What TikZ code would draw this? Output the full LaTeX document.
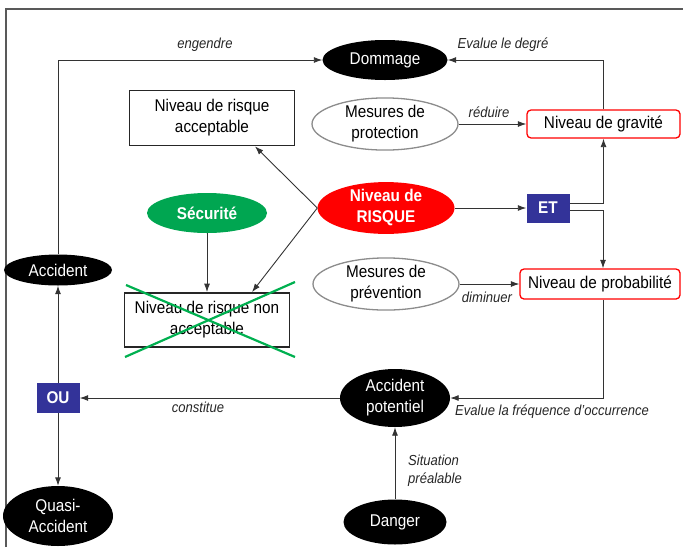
\documentclass[tikz,border=0pt]{standalone}
\usepackage{fontspec}
\setmainfont{Liberation Sans}[FakeStretch=0.9]
\usetikzlibrary{shapes.geometric,arrows.meta,calc}
\definecolor{myred}{RGB}{255,0,0}
\definecolor{myblue}{RGB}{51,51,153}
\definecolor{mygreen}{RGB}{0,176,80}
\definecolor{secgreen}{RGB}{0,166,81}
\definecolor{linegray}{RGB}{51,51,51}
\tikzset{
 nodefont/.style={font=\fontsize{17}{21}\selectfont},
 blackell/.style={ellipse, fill=black, text=white, inner sep=0pt, nodefont, align=center},
 grayell/.style={ellipse, draw=gray!90, line width=1.3pt, fill=white, inner sep=0pt, nodefont, align=center},
 redrect/.style={rectangle, rounded corners=4pt, draw=myred, line width=1.3pt, fill=white, nodefont, inner sep=0pt},
 blackrect/.style={rectangle, draw=black!85, line width=1.8pt, fill=white, nodefont, align=center, inner sep=0pt},
 bluebox/.style={rectangle, fill=myblue, text=white, font=\bfseries\fontsize{17}{20}\selectfont, inner sep=0pt},
 arr/.style={draw=linegray, line width=0.9pt, -{Latex[length=8.5pt,width=6pt]}},
 lab/.style={font=\itshape\fontsize{14.5}{18}\selectfont, text=black!85, inner sep=0pt, align=left},
 cross/.style={draw=mygreen, line width=2.2pt},
}
\begin{document}
\begin{tikzpicture}[x=1pt,y=-1pt]
\useasboundingbox (0,0) rectangle (683,547);
% frame
\draw[gray!70!black, line width=1.2pt] (6,547) -- (6,9) -- (683,9);

% nodes
\node[blackell, minimum width=125pt, minimum height=40pt] (dom) at (385,60) {Dommage};
\node[blackrect, minimum width=165pt, minimum height=55pt] (ra) at (212,118) {Niveau de risque\\acceptable};
\node[grayell, minimum width=146pt, minimum height=48pt] (prot) at (385,124) {Mesures de\\protection};
\node[redrect, minimum width=153pt, minimum height=28pt] (grav) at (603.5,124) {Niveau de gravité};
\node[ellipse, fill=myred, text=white, inner sep=0pt, align=center, font=\bfseries\fontsize{17}{21}\selectfont, minimum width=137pt, minimum height=50pt] (risk) at (386,208) {Niveau de\\RISQUE};
\node[bluebox, minimum width=43pt, minimum height=29pt] (et) at (548,208) {ET};
\node[ellipse, fill=secgreen, text=white, inner sep=0pt, font=\bfseries\fontsize{17}{21}\selectfont, minimum width=120pt, minimum height=40pt] (sec) at (207,213) {Sécurité};
\node[blackrect, minimum width=165pt, minimum height=54pt] (rna) at (207,320) {Niveau de risque non\\acceptable};
\node[grayell, minimum width=146pt, minimum height=48pt] (prev) at (386,284) {Mesures de\\prévention};
\node[redrect, minimum width=160pt, minimum height=30pt] (prob) at (600,284) {Niveau de probabilité};
\node[blackell, minimum width=108pt, minimum height=31pt] (acc) at (58,270) {Accident};
\node[bluebox, minimum width=43pt, minimum height=30pt] (ou) at (58,398) {OU};
\node[blackell, minimum width=110pt, minimum height=58pt] (ap) at (395,398) {Accident\\potentiel};
\node[blackell, minimum width=110pt, minimum height=60pt] (qa) at (58,516) {Quasi-\\Accident};
\node[blackell, minimum width=103pt, minimum height=45pt] (dan) at (395,522) {Danger};

% green cross
\draw[cross] (126,285) -- (295,357);
\draw[cross] (125,357) -- (295,282);

% connectors
\draw[arr] (acc.north) |- (dom.west);
\draw[arr] (grav.north) |- (dom.east);
\draw[arr] (prot.east) -- (grav.west);
\draw[arr] (risk.west) -- ([xshift=43pt]ra.south);
\draw[arr] (risk.west) -- ([xshift=45pt]rna.north);
\draw[arr] (sec.south) -- (rna.north);
\draw[arr] (risk.east) -- (et.west);
\draw[arr] ([yshift=5pt]et.east) -| (grav.south);
\draw[arr] ([yshift=-2pt]et.east) -| ([xshift=3pt]prob.north);
\draw[arr] (prev.east) -- (prob.west);
\draw[arr] ([xshift=3pt]prob.south) |- (ap.east);
\draw[arr] (ap.west) -- (ou.east);
\draw[arr] (ou.north) -- (acc.south);
\draw[arr] (ou.south) -- (qa.north);
\draw[arr] (dan.north) -- (ap.south);

% labels
\node[lab] (l1) at (205,45) {engendre};
\node[lab] (l2) at (503,45) {Evalue le degré};
\node[lab] (l3) at (489,112) {réduire};
\node[lab] (l4) at (487,297) {diminuer};
\node[lab] (l5) at (552,412) {Evalue la fréquence d’occurrence};
\node[lab] (l6) at (198,407) {constitue};
\node[lab, anchor=west] (l7) at (408,471) {Situation\\préalable};
\end{tikzpicture}
\end{document}
